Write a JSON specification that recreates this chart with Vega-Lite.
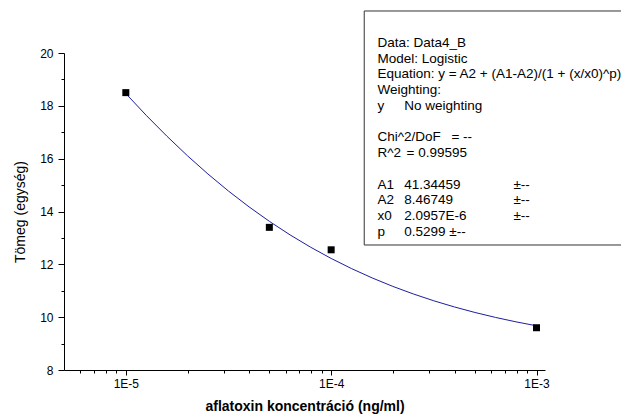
{
  "$schema": "https://vega.github.io/schema/vega-lite/v6.json",
  "width": 481,
  "height": 317,
  "autosize": {"type": "none"},
  "padding": {"left": 64, "top": 53, "right": 76, "bottom": 48},
  "background": "white",
  "config": {
    "view": {"stroke": null},
    "font": "Liberation Sans",
    "axis": {
      "domainColor": "black",
      "tickColor": "black",
      "labelColor": "black",
      "titleColor": "black",
      "grid": false,
      "labelFont": "Liberation Sans",
      "titleFont": "Liberation Sans"
    }
  },
  "datasets": {
    "box": [{"x1": 1.449e-4, "x2": 3.2e-3, "y1": 21.59, "y2": 12.732}],
    "legend": [
      {"t": "Data: Data4_B", "x": 1.68e-4, "y": 20.3785},
      {"t": "Model: Logistic", "x": 1.68e-4, "y": 19.7824},
      {"t": "Equation: y = A2 + (A1-A2)/(1 + (x/x0)^p)", "x": 1.68e-4, "y": 19.1862},
      {"t": "Weighting:", "x": 1.68e-4, "y": 18.59},
      {"t": "y", "x": 1.68e-4, "y": 17.9938},
      {"t": "No weighting", "x": 2.27e-4, "y": 17.9938},
      {"t": "Chi^2/DoF", "x": 1.68e-4, "y": 16.8014},
      {"t": "= --", "x": 3.85e-4, "y": 16.8014},
      {"t": "R^2", "x": 1.68e-4, "y": 16.2052},
      {"t": "= 0.99595", "x": 2.33e-4, "y": 16.2052},
      {"t": "A1", "x": 1.68e-4, "y": 15.0129},
      {"t": "41.34459", "x": 2.27e-4, "y": 15.0129},
      {"t": "±--", "x": 7.72e-4, "y": 15.0129},
      {"t": "A2", "x": 1.68e-4, "y": 14.4167},
      {"t": "8.46749", "x": 2.27e-4, "y": 14.4167},
      {"t": "±--", "x": 7.72e-4, "y": 14.4167},
      {"t": "x0", "x": 1.68e-4, "y": 13.8205},
      {"t": "2.0957E-6", "x": 2.27e-4, "y": 13.8205},
      {"t": "±--", "x": 7.72e-4, "y": 13.8205},
      {"t": "p", "x": 1.68e-4, "y": 13.2243},
      {"t": "0.5299 ±--", "x": 2.27e-4, "y": 13.2243}
    ],
    "curve": [
      {"x": 1.0e-5, "y": 18.464},
      {"x": 1.2589e-5, "y": 17.635},
      {"x": 1.5849e-5, "y": 16.851},
      {"x": 1.9953e-5, "y": 16.112},
      {"x": 2.5119e-5, "y": 15.420},
      {"x": 3.1623e-5, "y": 14.774},
      {"x": 3.9811e-5, "y": 14.176},
      {"x": 5.0119e-5, "y": 13.623},
      {"x": 6.3096e-5, "y": 13.114},
      {"x": 7.9433e-5, "y": 12.648},
      {"x": 1.0e-4, "y": 12.223},
      {"x": 1.2589e-4, "y": 11.836},
      {"x": 1.5849e-4, "y": 11.485},
      {"x": 1.9953e-4, "y": 11.166},
      {"x": 2.5119e-4, "y": 10.879},
      {"x": 3.1623e-4, "y": 10.620},
      {"x": 3.9811e-4, "y": 10.387},
      {"x": 5.0119e-4, "y": 10.178},
      {"x": 6.3096e-4, "y": 9.991},
      {"x": 7.9433e-4, "y": 9.823},
      {"x": 1.0e-3, "y": 9.673}
    ],
    "points": [
      {"x": 1.0e-5, "y": 18.5},
      {"x": 5.0e-5, "y": 13.4},
      {"x": 1.0e-4, "y": 12.55},
      {"x": 1.0e-3, "y": 9.6}
    ]
  },
  "layer": [
    {
      "data": {"name": "curve"},
      "mark": {"type": "line", "color": "#1e1e9e", "strokeWidth": 1, "clip": false},
      "encoding": {
        "x": {
          "field": "x", "type": "quantitative",
          "scale": {"type": "log", "domain": [5.0e-6, 1.1e-3], "nice": false},
          "axis": {
            "orient": "bottom",
            "values": [1.0e-5, 1.0e-4, 1.0e-3],
            "labelExpr": "'1E' + round(log(datum.value) / LN10)",
            "tickSize": 5,
            "labelFontSize": 12,
            "labelPadding": 3,
            "title": "aflatoxin koncentráció (ng/ml)",
            "titleFontSize": 14,
            "titleFontWeight": "bold",
            "titlePadding": 10
          }
        },
        "y": {
          "field": "y", "type": "quantitative",
          "scale": {"domain": [8, 20], "nice": false, "zero": false},
          "axis": {
            "orient": "left",
            "values": [8, 10, 12, 14, 16, 18, 20],
            "tickSize": 6,
            "labelFontSize": 12,
            "labelPadding": 5,
            "title": "Tömeg (egység)",
            "titleFontSize": 14,
            "titleFontWeight": "normal",
            "titlePadding": 12
          }
        }
      }
    },
    {
      "data": {"name": "points"},
      "mark": {"type": "point", "shape": "square", "filled": true, "color": "black", "size": 49, "opacity": 1},
      "encoding": {
        "x": {
          "field": "x", "type": "quantitative",
          "scale": {"type": "log", "domain": [5.0e-6, 1.1e-3], "nice": false},
          "axis": {
            "orient": "bottom",
            "values": [6e-6, 7e-6, 8e-6, 9e-6, 2e-5, 3e-5, 4e-5, 5e-5, 6e-5, 7e-5, 8e-5, 9e-5, 2e-4, 3e-4, 4e-4, 5e-4, 6e-4, 7e-4, 8e-4, 9e-4],
            "labels": false, "domain": false, "tickSize": 3, "title": null
          }
        },
        "y": {
          "field": "y", "type": "quantitative",
          "scale": {"domain": [8, 20], "nice": false, "zero": false},
          "axis": {
            "orient": "left",
            "values": [9, 11, 13, 15, 17, 19],
            "labels": false, "domain": false, "tickSize": 3, "title": null
          }
        }
      }
    },
    {
      "data": {"name": "box"},
      "mark": {"type": "rect", "fill": "white", "stroke": "#333333", "strokeWidth": 1},
      "encoding": {
        "x": {"field": "x1", "type": "quantitative", "scale": {"type": "log", "domain": [5.0e-6, 1.1e-3], "nice": false}, "axis": null},
        "x2": {"field": "x2"},
        "y": {"field": "y1", "type": "quantitative", "scale": {"domain": [8, 20], "nice": false, "zero": false}, "axis": null},
        "y2": {"field": "y2"}
      }
    },
    {
      "data": {"name": "legend"},
      "mark": {"type": "text", "align": "left", "baseline": "middle", "fontSize": 13.5, "color": "black", "font": "Liberation Sans"},
      "encoding": {
        "x": {"field": "x", "type": "quantitative", "scale": {"type": "log", "domain": [5.0e-6, 1.1e-3], "nice": false}, "axis": null},
        "y": {"field": "y", "type": "quantitative", "scale": {"domain": [8, 20], "nice": false, "zero": false}, "axis": null},
        "text": {"field": "t", "type": "nominal"}
      }
    }
  ],
  "resolve": {"axis": {"x": "independent", "y": "independent"}}
}
